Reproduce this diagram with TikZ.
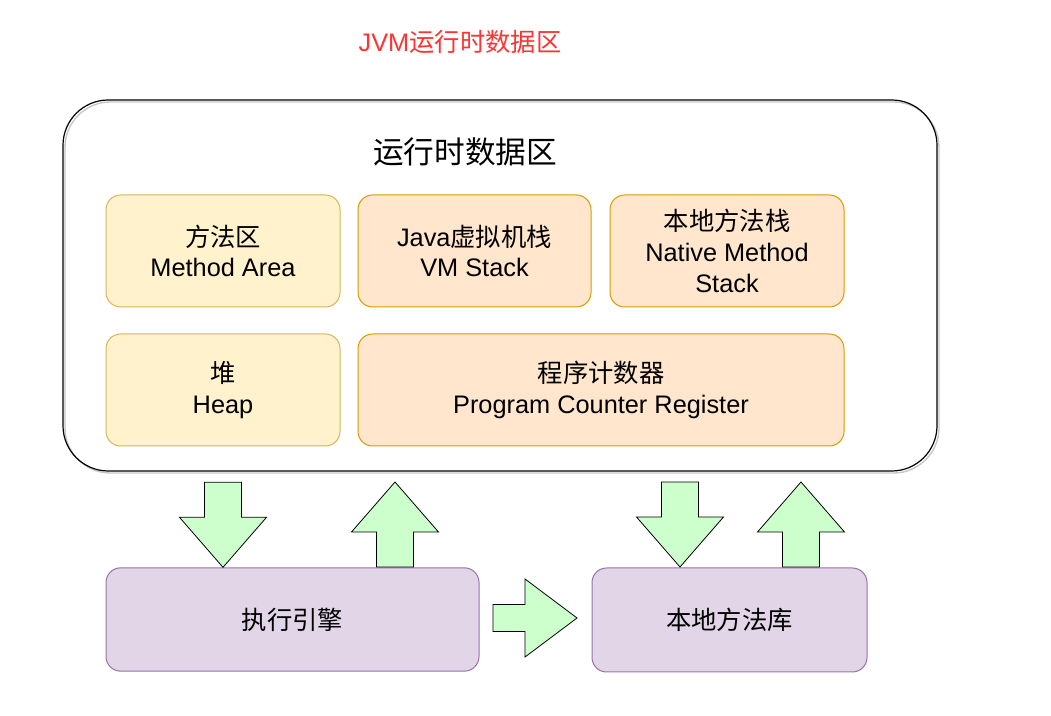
\documentclass[tikz,border=0pt]{standalone}
\usepackage{fontspec}
\setmainfont{Liberation Sans}
\newfontfamily\cjk{Noto Sans CJK SC}
\usepackage{xcolor}
\usepackage{tikz}
\usetikzlibrary{positioning,calc}

\definecolor{yelfill}{HTML}{FFF2CC}
\definecolor{yeldraw}{HTML}{D6B656}
\definecolor{orgfill}{HTML}{FFE6CC}
\definecolor{orgdraw}{HTML}{D79B00}
\definecolor{purfill}{HTML}{E1D5E7}
\definecolor{purdraw}{HTML}{9673A6}
\definecolor{grnfill}{HTML}{CCFFCC}
\definecolor{titlered}{HTML}{FF3333}

\begin{document}
\begin{tikzpicture}[
  x=0.75pt, y=-0.75pt,
  font=\fontsize{19pt}{23pt}\selectfont,
  area/.style={
    rounded corners=11pt, draw, line width=0.75pt, align=center,
    minimum height=84pt, minimum width=175.5pt, inner sep=0pt
  },
  yelbox/.style={area, fill=yelfill, draw=yeldraw},
  orgbox/.style={area, fill=orgfill, draw=orgdraw},
  purbox/.style={area, fill=purfill, draw=purdraw, minimum height=77.5pt},
  blockarr/.style={draw, fill=grnfill, line width=0.6pt, line join=miter}
]
\useasboundingbox (0,0) rectangle (1051,716);

% ---- titles ----
\node[text=titlered] (jvmtitle) at (460,42) {JVM{\cjk 运行时数据区}};

% ---- runtime data area frame (with a light shadow) ----
\draw[gray!45, line width=1pt, rounded corners=34pt] (65,102) rectangle (939,473);
\node[draw, line width=0.9pt, rounded corners=34pt, minimum width=655.5pt,
      minimum height=278.25pt] (rda) at (500,285.5) {};
\node[font=\fontsize{23pt}{27pt}\selectfont] (rdatitle) at (465,152) {\cjk 运行时数据区};

% ---- areas, first row ----
\node[yelbox] (method) at (223,251) {{\cjk 方法区}\\Method Area};
\node[orgbox, minimum width=174.75pt] (vmstack) at (474.5,251) {Java{\cjk 虚拟机栈}\\VM Stack};
\node[orgbox] (nstack) at (727,251) {{\cjk 本地方法栈}\\Native Method\\Stack};

% ---- areas, second row ----
\node[yelbox] (heap) at (223,390) {{\cjk 堆}\\Heap};
\node[orgbox, minimum width=364.5pt] (pcr) at (601,390) {{\cjk 程序计数器}\\Program Counter Register};

% ---- engine and native library ----
\node[purbox, minimum width=279.75pt] (engine) at (292.5,619.5) {\cjk 执行引擎};
\node[purbox, minimum width=206.25pt, minimum height=78pt] (nlib) at (729.5,620) {\cjk 本地方法库};

% ---- block arrows, tips ----
\coordinate (dn1) at (method.south |- engine.north);
\coordinate (up1) at (395,482);
\coordinate (dn2) at (680,567);
\coordinate (up2) at (801,482);
\coordinate (rt1) at (577,618);

\draw[blockarr] (dn1) -- ++(-43.5,-50) -- ++(25,0) -- ++(0,-35) -- ++(37,0)
  -- ++(0,35) -- ++(25,0) -- cycle;
\draw[blockarr] (up1) -- ++(-43.5,50) -- ++(25,0) -- ++(0,35) -- ++(37,0)
  -- ++(0,-35) -- ++(25,0) -- cycle;
\draw[blockarr] (dn2) -- ++(-43.5,-50) -- ++(25,0) -- ++(0,-35) -- ++(37,0)
  -- ++(0,35) -- ++(25,0) -- cycle;
\draw[blockarr] (up2) -- ++(-43.5,50) -- ++(25,0) -- ++(0,35) -- ++(37,0)
  -- ++(0,-35) -- ++(25,0) -- cycle;
\draw[blockarr] (rt1) -- ++(-52,-39) -- ++(0,25.5) -- ++(-32,0) -- ++(0,27)
  -- ++(32,0) -- ++(0,25.5) -- cycle;

\end{tikzpicture}
\end{document}
